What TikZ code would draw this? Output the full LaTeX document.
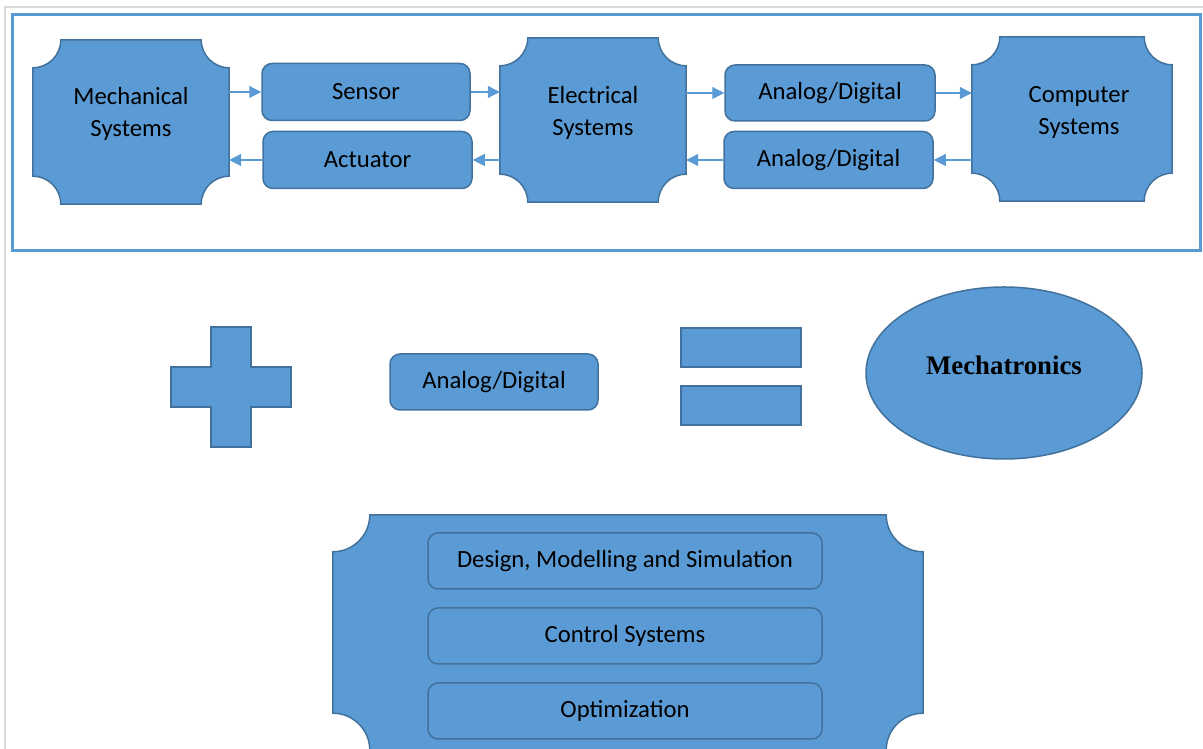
\documentclass[tikz,border=0pt]{standalone}
\usepackage{fontspec}
\setmainfont{Carlito}
\newfontfamily\timesbf{Liberation Serif}
\usepackage{tikz}
\usetikzlibrary{positioning,arrows.meta,calc,shapes.geometric,backgrounds}
\definecolor{boxfill}{HTML}{5B9BD5}
\definecolor{boxline}{HTML}{41719C}
\definecolor{framegray}{HTML}{D9D9D9}

\newcommand{\plaque}[2]{%
  \draw[shp] ($(#1.north west)+(#2,0)$) -- ($(#1.north east)+(-#2,0)$)
    arc[start angle=180, end angle=270, radius=#2]
    -- ($(#1.south east)+(0,#2)$)
    arc[start angle=90, end angle=180, radius=#2]
    -- ($(#1.south west)+(#2,0)$)
    arc[start angle=0, end angle=90, radius=#2]
    -- ($(#1.north west)+(0,-#2)$)
    arc[start angle=270, end angle=360, radius=#2]
    -- cycle;}

\tikzset{
  txt/.style={font=\fontsize{24.7}{32}\selectfont, align=center},
  shp/.style={draw=boxline, fill=boxfill, line width=1.5pt},
  box/.style={shp, txt, rounded corners=10pt, inner sep=0pt},
  sys/.style={inner sep=0pt, minimum height=164pt},
  arr/.style={draw=boxfill, line width=1.1pt, -{Triangle[length=12pt,width=12pt]}},
}

\begin{document}
\begin{tikzpicture}[x=1pt, y=1pt]
            \useasboundingbox (0,0) rectangle (1203,749);
            \draw[framegray, line width=1.5pt] (5,0) -- (5,742) -- (1203,742);
            \draw[boxfill, line width=3pt] (12,498) rectangle (1200,734);
            \node[sys, minimum width=196pt, label={[txt, yshift=8pt]center:Mechanical\\Systems}](mech) at (131,627){};
            \node[sys, minimum width=186pt, label={[txt, yshift=7pt]center:Electrical\\Systems}](el) at (593,629){};
            \node[sys, minimum width=200pt, label={[txt, xshift=7pt, yshift=7pt]center:Computer\\Systems}](comp) at (1072,630){};
            \node[inner sep=0pt, minimum width=590pt, minimum height=235pt](fld) at (628,116.5){};
            \begin{pgfonlayer}{background}
            \plaque{mech}{28pt}
            \plaque{el}{28pt}
            \plaque{comp}{28pt}
            \plaque{fld}{37pt}
            \end{pgfonlayer}
            \node[box, minimum width=208pt, minimum height=57pt](sen) at (366,657){Sensor};
            \node[box, minimum width=209pt, minimum height=57pt](act) at (367.5,589){Actuator};
            \node[box, minimum width=210pt, minimum height=56pt](ad1) at (830,656){Analog/Digital};
            \node[box, minimum width=209pt, minimum height=57pt](ad2) at (828.5,589){Analog/Digital};
            \path (mech.east |- sen.west) edge[arr] (sen.west);
            \path (sen.east) edge[arr] (el.west |- sen.east);
            \path (el.east |- ad1.west) edge[arr] (ad1.west);
            \path (ad1.east) edge[arr] (comp.west |- ad1.east);
            \path (comp.west |- ad2.east) edge[arr] (ad2.east);
            \path (ad2.west) edge[arr] (el.east |- ad2.west);
            \path (el.west |- act.east) edge[arr] (act.east);
            \path (act.west) edge[arr] (mech.east |- act.west);
            \draw[shp] (211,302) -- (251,302) -- (251,342) -- (291,342) -- (291,382) -- (251,382)
                -- (251,422) -- (211,422) -- (211,382) -- (171,382) -- (171,342) -- (211,342) -- cycle;
            \node[box, minimum width=208pt, minimum height=56pt](adm) at (494,367){Analog/Digital};
            \draw[shp] (681,382) rectangle (801,421);
            \draw[shp] (681,324) rectangle (801,363);
            \node[shp, ellipse, minimum width=276pt, minimum height=172pt,
                label={[font=\timesbf\bfseries\fontsize{26.8}{32}\selectfont, yshift=8pt]center:Mechatronics}](mtr) at (1004,376){};
            \node[box, minimum width=394pt, minimum height=56pt](dms) at (625,188){Design, Modelling and Simulation};
            \node[box, minimum width=394pt, minimum height=56pt](cs) at (625,113){Control Systems};
            \node[box, minimum width=394pt, minimum height=56pt](opt) at (625,38){Optimization};
\end{tikzpicture}
\end{document}
